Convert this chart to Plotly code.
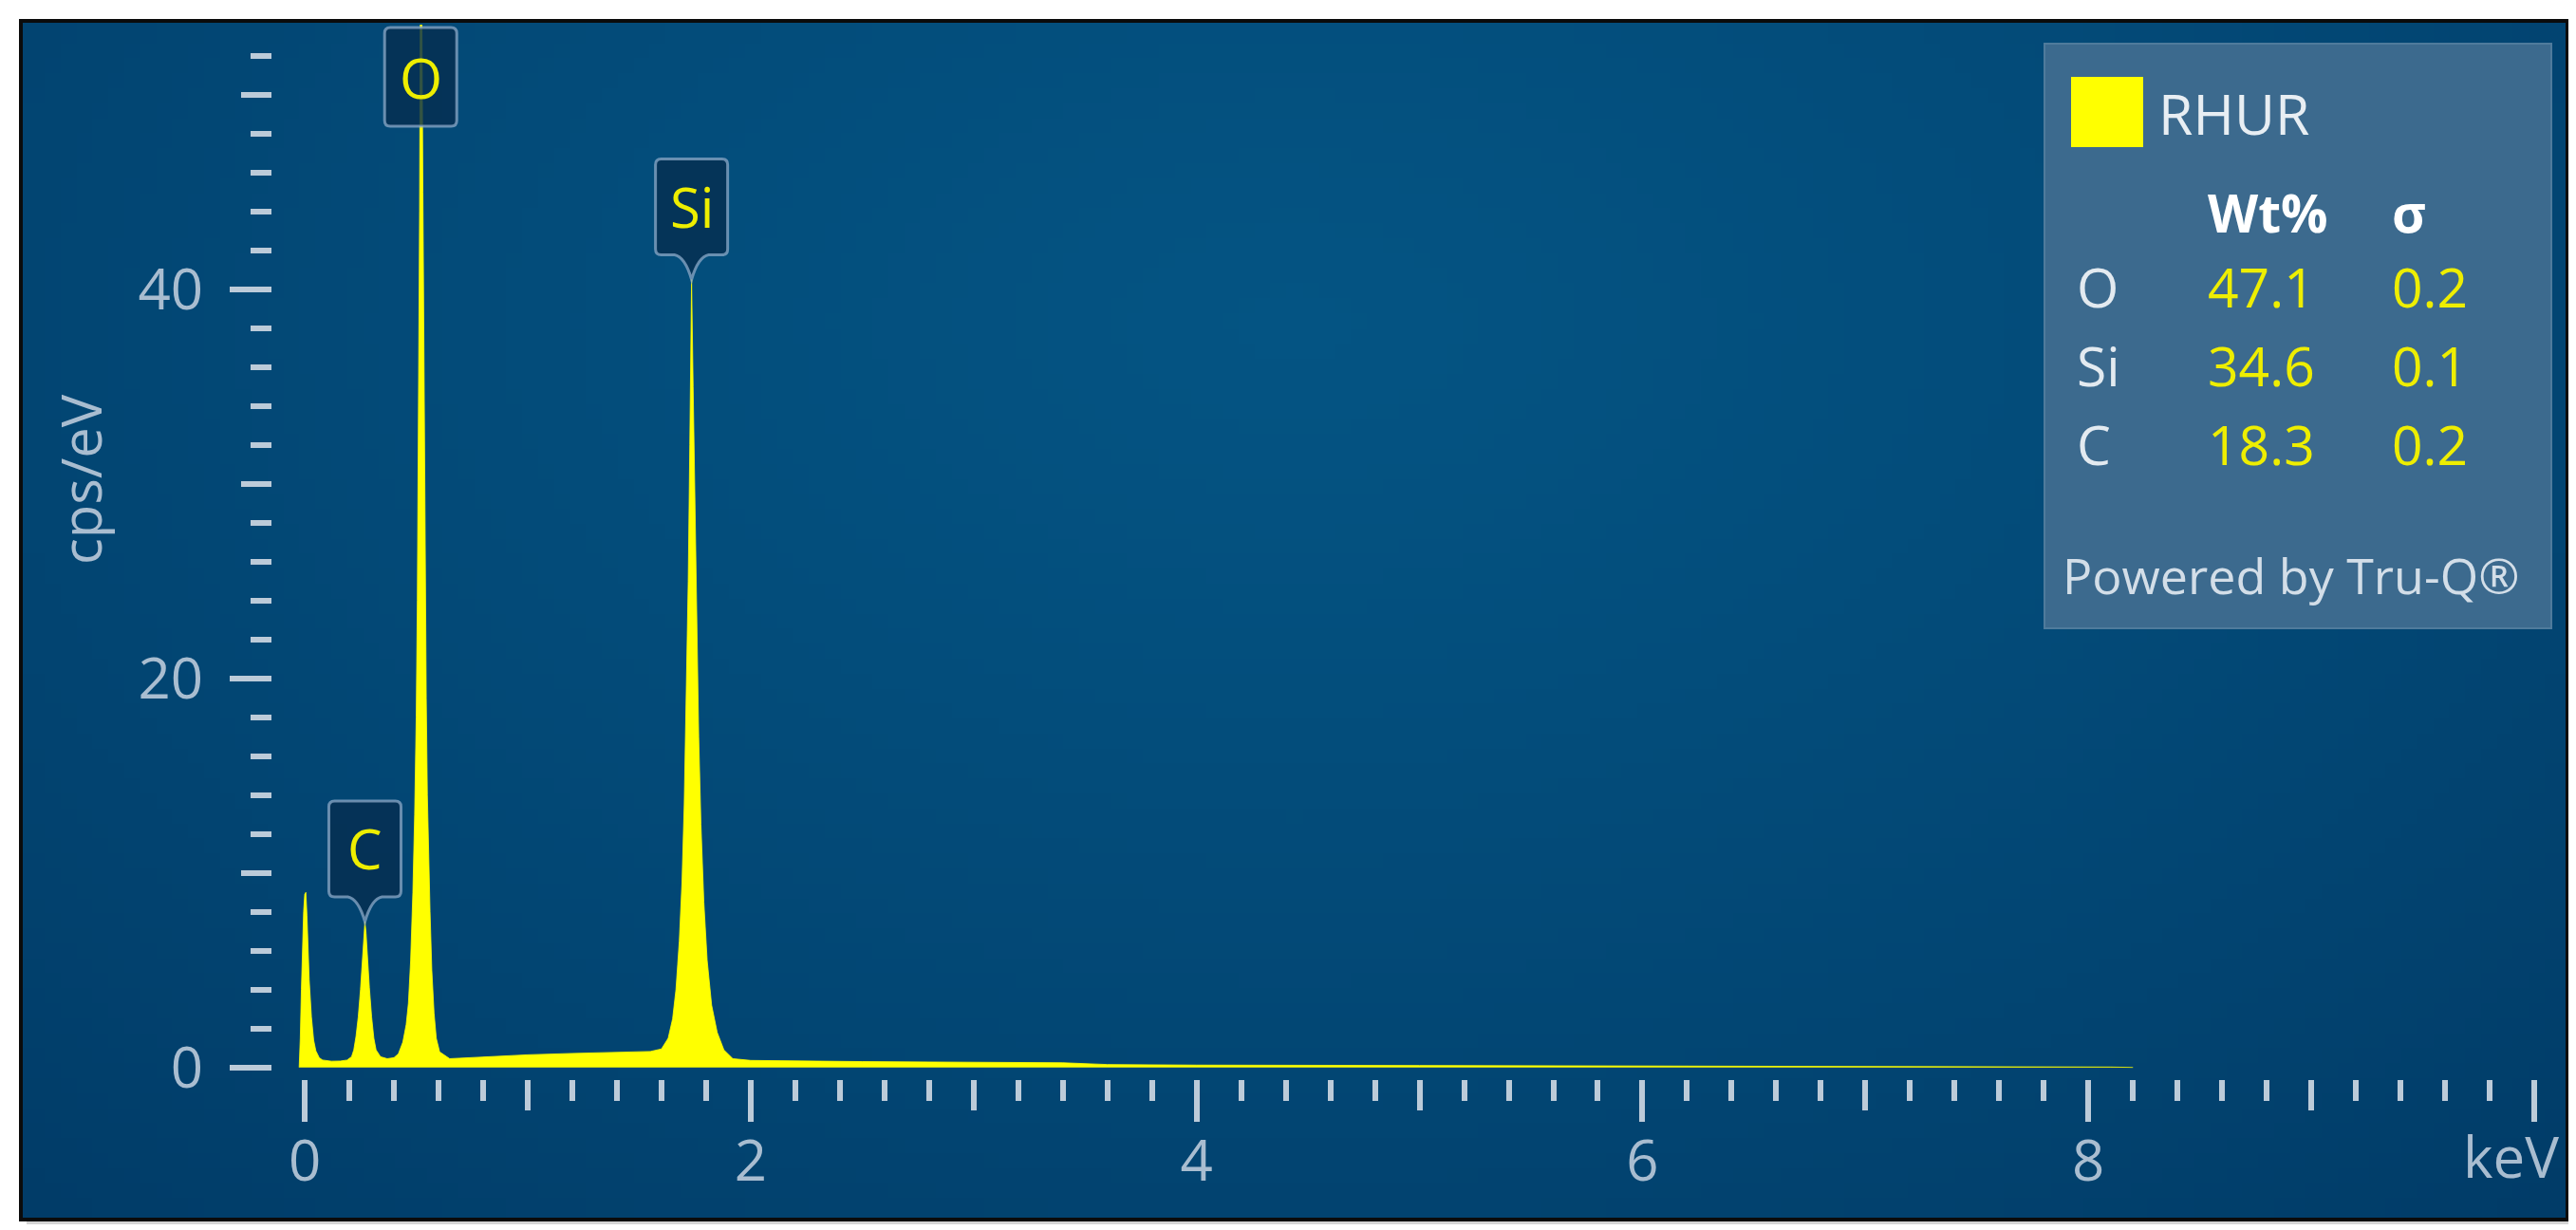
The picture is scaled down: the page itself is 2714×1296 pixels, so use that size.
import base64
import struct
import zlib

import plotly.graph_objects as go

# --- spectrum (keV, cps/eV) ---
energy_kev = [
    -0.025, -0.020, -0.015, -0.010, -0.005, 0.000, 0.005, 0.010, 0.015, 0.020,
    0.030, 0.040, 0.050, 0.065, 0.080, 0.120, 0.160, 0.190, 0.210, 0.220,
    0.230, 0.240, 0.250, 0.260, 0.265, 0.270, 0.275, 0.280, 0.290, 0.300,
    0.310, 0.320, 0.340, 0.370, 0.400, 0.420, 0.440, 0.455, 0.465, 0.475,
    0.485, 0.493, 0.500, 0.505, 0.510, 0.515, 0.520, 0.525, 0.530, 0.535,
    0.540, 0.545, 0.550, 0.555, 0.562, 0.570, 0.580, 0.590, 0.605, 0.650,
    0.800, 1.000, 1.200, 1.400, 1.550, 1.600, 1.630, 1.650, 1.665, 1.680,
    1.692, 1.702, 1.712, 1.720, 1.727, 1.735, 1.742, 1.750, 1.758, 1.767,
    1.777, 1.790, 1.805, 1.825, 1.850, 1.880, 1.920, 2.000, 2.500, 3.000,
    3.400, 3.600, 4.000, 5.000, 6.000, 7.000, 7.600, 7.700, 8.100, 8.200,
]
counts_cps = [
    0.0, 1.5, 4.0, 6.3, 8.0, 8.9, 9.0, 7.8, 6.0, 4.5,
    2.6, 1.4, 0.85, 0.5, 0.38, 0.32, 0.33, 0.38, 0.55, 0.9,
    1.6, 2.6, 4.0, 5.8, 6.8, 7.5, 6.9, 5.9, 4.1, 2.6,
    1.5, 0.9, 0.55, 0.45, 0.5, 0.7, 1.3, 2.2, 3.3, 5.5,
    9.0, 13.0, 18.0, 24.0, 32.0, 44.0, 60.0, 55.0, 45.0, 35.0,
    26.0, 19.0, 14.0, 11.0, 8.0, 5.0, 2.8, 1.5, 0.8, 0.45,
    0.55, 0.65, 0.72, 0.78, 0.82, 0.95, 1.5, 2.5, 4.0, 6.5,
    9.5, 13.5, 19.0, 25.0, 32.0, 40.5, 35.0, 29.0, 23.0, 17.0,
    12.5, 8.5, 5.5, 3.2, 1.8, 0.9, 0.45, 0.36, 0.3, 0.27,
    0.24, 0.15, 0.12, 0.1, 0.08, 0.06, 0.05, 0.025, 0.02, 0.0,
]

# peak markers
peak_names = ["C", "O", "Si"]
peak_kev = [0.27, 0.52, 1.735]

# quantification table
sample_name = "RHUR"
quant_elements = ["O", "Si", "C"]
quant_wt = [47.1, 34.6, 18.3]
quant_sigma = [0.2, 0.1, 0.2]

x_ticks = [0, 2, 4, 6, 8, 10]
x_ticktext = ["0", "2", "4", "6", "8", ""]
x_unit = "keV"
x_mid_ticks = [1, 3, 5, 7, 9]
y_ticks = [0, 20, 40]
y_mid_ticks = [10, 30, 50]

# --- page geometry (pixels) ---
W, H = 2714, 1296
PL, PR, PT, PB = 279, 2675, 18, 1129
X_RANGE = [-0.145, 10.055]
Y_RANGE = [-0.6, 53.6]

FONT = "Open Sans"
YELLOW = "#ffff00"
TICK = "#bccbd9"
TICKLABEL = "#a9bdd0"


def px_x(X):
    return (X - PL) / (PR - PL)


def px_y(Y):
    return (PB - Y) / (PB - PT)


def gradient_uri(w=160, h=80):
    """small radial-ish gradient png, stretched over the frame"""
    c0, c1 = (4, 84, 131), (1, 60, 104)
    rows = []
    for j in range(h):
        v = j / (h - 1)
        row = bytearray(b"\x00")
        for i in range(w):
            u = i / (w - 1)
            d = min(1.0, (((u - 0.5) / 0.75) ** 2 + ((v - 0.25) / 1.0) ** 2) ** 0.5)
            t = d ** 1.2
            row += bytes(round(a + (b - a) * t) for a, b in zip(c0, c1))
        rows.append(bytes(row))

    def chunk(tag, data):
        return (struct.pack(">I", len(data)) + tag + data
                + struct.pack(">I", zlib.crc32(tag + data) & 0xffffffff))

    png = (b"\x89PNG\r\n\x1a\n"
           + chunk(b"IHDR", struct.pack(">IIBBBBB", w, h, 8, 2, 0, 0, 0))
           + chunk(b"IDAT", zlib.compress(b"".join(rows)))
           + chunk(b"IEND", b""))
    return "data:image/png;base64," + base64.b64encode(png).decode()


def pin_path(pointer=True):
    # pixel coords relative to the anchor, y up
    if pointer:
        return ("M -38,32 L -38,121 Q -38,127 -32,127 L 32,127 Q 38,127 38,121 "
                "L 38,32 Q 38,26 32,26 L 18,26 Q 7,24 0,0 Q -7,24 -18,26 "
                "L -32,26 Q -38,26 -38,32 Z")
    return ("M -38,-9 L -38,-101 Q -38,-107 -32,-107 L 32,-107 Q 38,-107 38,-101 "
            "L 38,-9 Q 38,-3 32,-3 L -32,-3 Q -38,-3 -38,-9 Z")


fig = go.Figure()

fig.add_trace(go.Scatter(
    x=energy_kev, y=counts_cps, mode="lines",
    line=dict(color=YELLOW, width=0.8),
    fill="tozeroy", fillcolor=YELLOW,
    hoverinfo="skip", showlegend=False,
))
# empty trace so the overlay axes (medium ticks) get drawn
fig.add_trace(go.Scatter(x=[], y=[], xaxis="x2", yaxis="y2", showlegend=False))

shapes = []
annotations = []

# frame: soft shadow strips, gradient image, black border
shapes.append(dict(type="rect", xref="paper", yref="paper", layer="below",
                   x0=px_x(2697), x1=px_x(2702), y0=px_y(1282), y1=px_y(20),
                   fillcolor="#d4d4d4", line=dict(width=0)))
shapes.append(dict(type="rect", xref="paper", yref="paper", layer="below",
                   x0=px_x(20), x1=px_x(2702), y0=px_y(1282), y1=px_y(1277),
                   fillcolor="#d4d4d4", line=dict(width=0)))
frame_img = dict(source=gradient_uri(), xref="paper", yref="paper",
                 x=px_x(14), y=px_y(14), sizex=px_x(2697) - px_x(14),
                 sizey=px_y(14) - px_y(1277), sizing="stretch",
                 xanchor="left", yanchor="top", layer="below")
shapes.append(dict(type="rect", xref="paper", yref="paper", layer="below",
                   x0=px_x(14), x1=px_x(2697), y0=px_y(14), y1=px_y(1277),
                   fillcolor="rgba(0,0,0,0)", line=dict(color="#0b0b0b", width=4)))

# peak pins
for name, kev in zip(peak_names, peak_kev):
    top = max(c for e, c in zip(energy_kev, counts_cps) if abs(e - kev) < 0.03)
    inside = top < Y_RANGE[1]
    anchor = dict(xref="x", xsizemode="pixel", xanchor=kev,
                  ysizemode="pixel")
    if inside:
        anchor.update(yref="y", yanchor=top)
    else:
        anchor.update(yref="paper", yanchor=1)
    shapes.append(dict(type="path", path=pin_path(inside), layer="above",
                       fillcolor="rgba(6,46,80,0.82)",
                       line=dict(color="rgba(140,170,200,0.75)", width=3),
                       **anchor))
    annotations.append(dict(
        x=kev, xref="x",
        y=top if inside else 1, yref="y" if inside else "paper",
        yshift=77 if inside else -55,
        text=name, showarrow=False, xanchor="center", yanchor="middle",
        font=dict(family=FONT, size=58, color="#eeee00"),
    ))

# quant box
shapes.append(dict(type="rect", xref="paper", yref="paper", layer="below",
                   x0=px_x(2146), x1=px_x(2680), y0=px_y(654), y1=px_y(38),
                   fillcolor="#3c6a8e", line=dict(color="#4f7b9c", width=2)))
shapes.append(dict(type="rect", xref="paper", yref="paper", layer="below",
                   x0=px_x(2174), x1=px_x(2250), y0=px_y(147), y1=px_y(73),
                   fillcolor=YELLOW, line=dict(width=0)))


def box_text(X, Y, text, color, size=57, anchor="left"):
    annotations.append(dict(x=px_x(X), y=px_y(Y), xref="paper", yref="paper",
                            text=text, showarrow=False, xanchor=anchor,
                            yanchor="middle",
                            font=dict(family=FONT, size=size, color=color)))


box_text(2264, 111, sample_name, "#e8eef3", size=59)
box_text(2316, 215, "<b>Wt%</b>", "#ffffff", size=55)
box_text(2510, 215, "<b>σ</b>", "#ffffff", size=55)
for k, (el, wt, sg) in enumerate(zip(quant_elements, quant_wt, quant_sigma)):
    yy = 294 + 83 * k
    box_text(2178, yy, el, "#e3eaf0")
    box_text(2316, yy, f"{wt:.1f}", "#eeee00")
    box_text(2510, yy, f"{sg:.1f}", "#eeee00")
box_text(2163, 597, "Powered by Tru-Q®", "#d3dee8", size=52)

# unit label in place of the last x tick label
box_text(2690, 1210, x_unit, TICKLABEL, size=60, anchor="right")

# y axis title
annotations.append(dict(x=px_x(76), y=px_y(497), xref="paper", yref="paper",
                        text="cps/eV", textangle=-90, showarrow=False,
                        xanchor="center", yanchor="middle",
                        font=dict(family=FONT, size=58, color=TICKLABEL)))

axis_common = dict(showgrid=False, zeroline=False, showline=False,
                   ticks="outside", tickwidth=6, tickcolor=TICK,
                   fixedrange=True)

fig.update_layout(
    width=W, height=H,
    margin=dict(l=PL, r=W - PR, t=PT, b=H - PB),
    paper_bgcolor="white",
    plot_bgcolor="rgba(0,0,0,0)",
    showlegend=False,
    font=dict(family=FONT, size=60, color=TICKLABEL),
    xaxis=dict(range=X_RANGE, tickmode="array", tickvals=x_ticks,
               ticktext=x_ticktext, ticklen=44, ticklabelstandoff=-10,
               tickfont=dict(size=60, color=TICKLABEL),
               minor=dict(dtick=0.2, tick0=0, ticklen=22, tickwidth=6,
                          tickcolor=TICK, ticks="outside"),
               **axis_common),
    yaxis=dict(range=Y_RANGE, tickmode="array", tickvals=y_ticks,
               ticklen=44, ticklabelstandoff=16,
               tickfont=dict(size=60, color=TICKLABEL),
               minor=dict(dtick=2, tick0=0, ticklen=22, tickwidth=6,
                          tickcolor=TICK, ticks="outside"),
               **axis_common),
    xaxis2=dict(range=X_RANGE, overlaying="x", anchor="y2", side="bottom",
                tickmode="array", tickvals=x_mid_ticks, ticklen=32,
                showticklabels=False, **axis_common),
    yaxis2=dict(range=Y_RANGE, overlaying="y", anchor="x2", side="left",
                tickmode="array", tickvals=y_mid_ticks, ticklen=32,
                showticklabels=False, **axis_common),
    shapes=shapes,
    annotations=annotations,
    images=[frame_img],
)

fig.write_html("out.html")
